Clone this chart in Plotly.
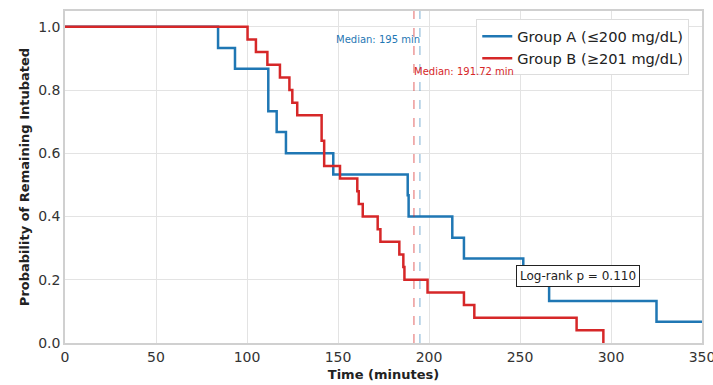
import plotly.graph_objects as go

# Group A (<=200 mg/dL): event times (min) and survival after each step
a_times = [0, 84.1, 93.4, 111.7, 116.3, 121.4, 147.4, 188.3, 188.8, 212.8, 219.2, 251.8, 266.0, 325.0, 350]
a_surv  = [1.0, 0.933, 0.867, 0.733, 0.667, 0.6, 0.533, 0.467, 0.4, 0.333, 0.267, 0.2, 0.133, 0.067, 0.067]

# Group B (>=201 mg/dL)
b_times = [0, 100.3, 104.9, 111.2, 118.1, 123.3, 124.9, 127.6, 141.0, 142.4, 151.1, 160.6, 161.4, 163.6,
           171.8, 173.3, 183.7, 185.9, 186.5, 199.2, 219.2, 224.9, 281.1, 295.8]
b_surv  = [1.0, 0.96, 0.92, 0.88, 0.84, 0.80, 0.76, 0.72, 0.64, 0.56, 0.52, 0.48, 0.44, 0.40,
           0.36, 0.32, 0.28, 0.24, 0.20, 0.16, 0.12, 0.08, 0.04, 0.0]

x_ticks = [0, 50, 100, 150, 200, 250, 300, 350]
y_ticks = [0, 0.2, 0.4, 0.6, 0.8, 1.0]

median_a = 195
median_b = 191.72
p_value = 0.110

BLUE = "#1f77b4"
RED = "#d62728"
FONT = "DejaVu Sans"

fig = go.Figure()
fig.add_trace(go.Scatter(x=a_times, y=a_surv, mode="lines", line=dict(shape="hv", color=BLUE, width=2.5),
                         name="Group A (≤200 mg/dL)"))
fig.add_trace(go.Scatter(x=b_times, y=b_surv, mode="lines", line=dict(shape="hv", color=RED, width=2.5),
                         name="Group B (≥201 mg/dL)"))

fig.add_shape(type="line", x0=median_b, x1=median_b, y0=0, y1=1.05, xref="x", yref="y",
              line=dict(color="rgba(214,39,40,0.55)", width=1.3, dash="dash"))
fig.add_shape(type="line", x0=median_a, x1=median_a, y0=0, y1=1.05, xref="x", yref="y",
              line=dict(color="rgba(31,119,180,0.45)", width=1.3, dash="dash"))

fig.add_annotation(x=median_a, y=0.96, text=f"Median: {median_a} min", showarrow=False,
                   xanchor="right", yanchor="middle", font=dict(family=FONT, size=10, color=BLUE), xshift=2)
fig.add_annotation(x=median_b, y=0.86, text=f"Median: {median_b} min", showarrow=False,
                   xanchor="left", yanchor="middle", font=dict(family=FONT, size=10, color=RED), xshift=-2)
fig.add_annotation(x=282, y=0.212, text=f"Log-rank p = {p_value:.3f}", showarrow=False,
                   xanchor="center", yanchor="middle", font=dict(family=FONT, size=12, color="#222"),
                   bgcolor="white", bordercolor="#222", borderwidth=1, borderpad=3)

fig.update_layout(
    width=713, height=385,
    margin=dict(l=65, r=11, t=11, b=42, autoexpand=False),
    paper_bgcolor="white", plot_bgcolor="white",
    font=dict(family=FONT, size=13, color="#222"),
    showlegend=True,
    legend=dict(x=0.98, y=0.975, xanchor="right", yanchor="top", bgcolor="white",
                bordercolor="#dddddd", borderwidth=1, font=dict(family=FONT, size=14.6, color="#222"),
                itemwidth=30, tracegroupgap=0),
)
fig.update_xaxes(range=[0, 350], tickvals=x_ticks,
                 showgrid=True, gridcolor="#e3e3e3", gridwidth=1, zeroline=False,
                 showline=True, linecolor="#d0d0d0", linewidth=1.5, mirror=True,
                 ticks="", tickfont=dict(size=14, color="#333"), automargin=False,
                 ticklabeloverflow="allow",
                 title=dict(text="<b>Time (minutes)</b>", font=dict(size=13, color="#222"), standoff=6))
fig.update_yaxes(range=[0, 1.05], tickvals=y_ticks, tickformat=".1f",
                 showgrid=True, gridcolor="#e3e3e3", gridwidth=1, zeroline=False,
                 showline=True, linecolor="#d0d0d0", linewidth=1.5, mirror=True,
                 ticks="", tickfont=dict(size=14, color="#333"), automargin=False,
                 title=dict(text="<b>Probability of Remaining Intubated</b>", font=dict(size=13, color="#222"),
                            standoff=6))

fig.write_html("out.html", config={"displayModeBar": False},
               post_script="document.body.style.margin='0';")
